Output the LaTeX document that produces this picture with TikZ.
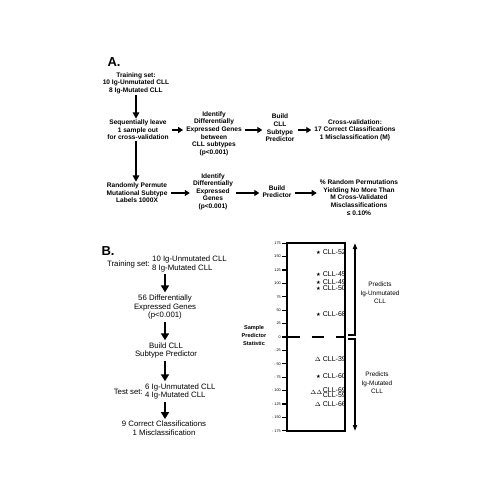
\documentclass[tikz,border=0pt]{standalone}
\usepackage{fontspec}
\setmainfont{Liberation Sans}
\newfontfamily\symfont{DejaVu Sans}
\usetikzlibrary{positioning,arrows.meta}
\newcommand{\ustar}{{\symfont\fontsize{5.2}{5}\selectfont ★}}
\newcommand{\mtri}{{\fontsize{6.5}{6}\selectfont$\Delta$}}

\begin{document}
\begin{tikzpicture}[x=1pt,y=-1pt,
  txtA/.style={align=center,font=\fontsize{6.6}{7.6}\selectfont\bfseries,inner sep=1pt},
  txtB/.style={align=center,font=\fontsize{7.8}{8.8}\selectfont,inner sep=1pt},
  panel/.style={font=\fontsize{13}{13}\selectfont\bfseries,inner sep=0pt},
  varrow/.style={-{Triangle[width=6.5pt,length=6.5pt]},line width=2pt},
  harrow/.style={-{Triangle[width=6pt,length=5pt]},line width=2pt,shorten <=2pt,shorten >=2pt},
  barrow/.style={-{Triangle[width=8pt,length=7pt]},line width=2.6pt,shorten <=1pt,shorten >=1pt},
  ticklbl/.style={anchor=east,font=\fontsize{3.8}{4}\selectfont,inner sep=1pt},
  case/.style={anchor=east,font=\fontsize{7}{5.6}\selectfont,inner sep=0pt,align=right},
  side/.style={align=center,font=\fontsize{6.4}{8.3}\selectfont,inner sep=0pt},
  bracket/.style={line width=1.5pt,-{Triangle[width=4pt,length=6pt]}}]
\useasboundingbox (0,0) rectangle (504,504);
% panel A
\node[panel] (labA) at (114,62) {A.};
\node[txtA] (train) at (136,83) {Training set:\\10 Ig-Unmutated CLL\\8 Ig-Mutated CLL};
\node[txtA] (seq) at (138,130) {Sequentially leave\\1 sample out\\for cross-validation};
\node[txtA] (idA) at (214,133.5) {Identify\\Differentially\\Expressed Genes\\between\\CLL subtypes\\(p<0.001)};
\node[txtA] (buildA) at (280,128) {Build\\CLL\\Subtype\\Predictor};
\node[txtA] (cv) at (355,130) {Cross-validation:\\17 Correct Classifications\\1 Misclassification (M)};
\node[txtA] (perm) at (137,193) {Randomly Permute\\Mutational Subtype\\Labels 1000X};
\node[txtA] (idB) at (213,191.5) {Identify\\Differentially\\Expressed\\Genes\\(p<0.001)};
\node[txtA] (buildB) at (277,191.5) {Build\\Predictor};
\node[txtA] (pct) at (359,197.5) {\% Random Permutations\\Yielding No More Than\\M Cross-Validated\\Misclassifications\\≤ 0.10\%};
\draw[varrow] (train.south) -- (train.south |- seq.north);
\draw[varrow] (seq.south -| train.south) -- (train.south |- perm.north);
\draw[harrow] (seq.east) -- (seq.east -| idA.west);
\draw[harrow] (idA.east |- seq.east) -- (seq.east -| buildA.west);
\draw[harrow] (buildA.east |- seq.east) -- (seq.east -| cv.west);
\draw[harrow] (perm.east) -- (perm.east -| idB.west);
\draw[harrow] (idB.east |- perm.east) -- (perm.east -| buildB.west);
\draw[harrow] (buildB.east |- perm.east) -- (perm.east -| pct.west);
% panel B
\node[panel] (labB) at (108,251) {B.};
\node[txtB,anchor=west,align=left] (trainB) at (151,264) {10 Ig-Unmutated CLL\\8 Ig-Mutated CLL};
\node[txtB,left=0pt of trainB] (trainlbl) {Training set:};
\node[txtB] (genes) at (165,307) {56 Differentially\\Expressed Genes\\(p<0.001)};
\node[txtB] (predB) at (166,350.5) {Build CLL\\Subtype Predictor};
\node[txtB,anchor=west,align=left] (testB) at (144,391.5) {6 Ig-Unmutated CLL\\4 Ig-Mutated CLL};
\node[txtB,left=0pt of testB] (testlbl) {Test set:};
\node[txtB] (resB) at (164,428.5) {9 Correct Classifications\\1 Misclassification};
\draw[barrow] (trainB.south -| genes.north) -- (genes.north);
\draw[barrow] (genes.south) -- (genes.south |- predB.north);
\draw[barrow] (predB.south -| genes.south) -- (genes.south |- testB.north);
\draw[barrow] (testB.south -| genes.south) -- (genes.south |- resB.north);
% predictor plot
\node[align=center,font=\fontsize{5.6}{8}\selectfont\bfseries,inner sep=0pt] (stat) at (254,335) {Sample\\Predictor\\Statistic};
\draw[line width=1.8pt] (287,243) rectangle (345,431);
\foreach \v/\t in {175/175,150/150,125/125,100/100,75/75,50/50,25/25,0/0,-25/- 25,-50/- 50,-75/- 75,-100/- 100,-125/- 125,-150/- 150,-175/- 175}{
  \draw[line width=1.2pt] (282,{337-0.536*\v}) -- (287,{337-0.536*\v});
  \node[ticklbl] (t\v) at (282,{337-0.536*\v}) {\t};
}
\draw[line width=2pt,dash pattern=on 12.5pt off 12pt] (287,337) -- (345,337);
\node[case] (c52) at (346,252) {\ustar\ CLL-52};
\node[case] (c45) at (346,274) {\ustar\ CLL-45};
\node[case] (c49) at (346,282) {\ustar\ CLL-49};
\node[case] (c50) at (346,288) {\ustar\ CLL-50};
\node[case] (c68) at (346,314) {\ustar\ CLL-68};
\node[case] (c39) at (346,359) {\mtri\ CLL-39};
\node[case] (c60) at (346,376) {\ustar\ CLL-60};
\node[case] (c69) at (346,392.5) {CLL-69\\CLL-59};
\node[anchor=east,inner sep=0pt] (d69) at (c69.west) {\mtri\mtri};
\node[case] (c66) at (346,404) {\mtri\ CLL-66};
\coordinate (uptop) at (355,243);
\coordinate (upbot) at (355,335);
\coordinate (lowtop) at (355,339);
\coordinate (lowbot) at (355,431);
\draw[bracket] (upbot -| 348,0) -- (upbot) -- (uptop);
\draw[bracket] (lowtop -| 348,0) -- (lowtop) -- (lowbot);
\node[side] (predU) at (380,293) {Predicts\\Ig-Unmutated\\CLL};
\node[side] (predM) at (377,383) {Predicts\\Ig-Mutated\\CLL};
\end{tikzpicture}
\end{document}
